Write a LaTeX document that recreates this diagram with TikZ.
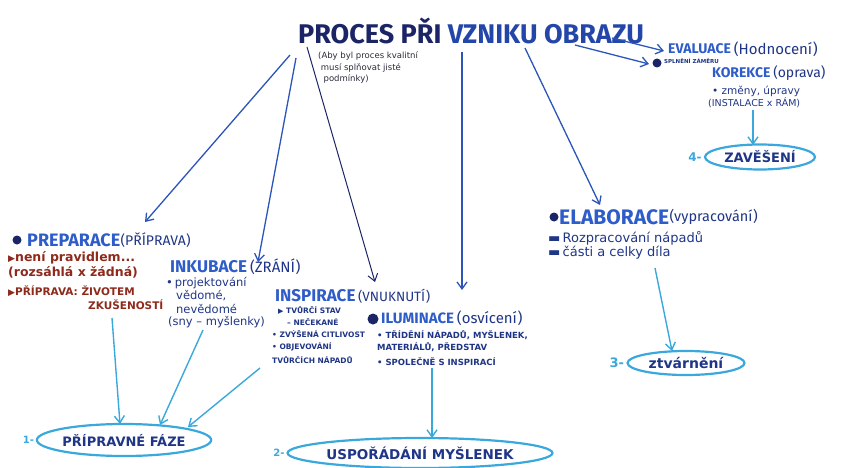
\documentclass[tikz,border=0pt]{standalone}
\usepackage{fontspec}
\setmainfont{DejaVu Sans}
\newfontfamily\fira{Fira Sans}
\usetikzlibrary{arrows.meta,shapes.geometric}
\definecolor{navy}{HTML}{1B2566}
\definecolor{tblue}{HTML}{2446A8}
\definecolor{hblue}{HTML}{2E5CC8}
\definecolor{dblue}{HTML}{1F3586}
\definecolor{rbrown}{HTML}{8E2A1C}
\definecolor{cyanl}{HTML}{3AA8DC}
\definecolor{arrowb}{HTML}{2B55B8}
\definecolor{inkd}{HTML}{2A2A3A}
\begin{document}
\begin{tikzpicture}[x=1pt,y=-1pt,
  heading/.style={font=\fira\fontsize{17}{17}\selectfont\bfseries, text=hblue, inner sep=0pt, anchor=west},
  paren/.style={font=\fira\fontsize{14}{14}\selectfont, text=dblue, inner sep=0pt, anchor=west},
  note/.style={font=\fontsize{11.5}{14}\selectfont, text=dblue, inner sep=0pt, anchor=west, align=left},
  caps/.style={font=\fontsize{8.5}{12}\selectfont\bfseries, text=dblue, inner sep=0pt, anchor=west, align=left},
  red/.style={font=\fontsize{12.5}{16}\selectfont\bfseries, text=rbrown, inner sep=0pt, anchor=west, align=left},
  dot/.style={circle, fill=navy, inner sep=0pt, minimum size=#1},
  darrow/.style={draw=arrowb, line width=1.3pt, -{Straight Barb[length=7pt,width=10pt]}},
  narrow/.style={draw=navy, line width=1pt, -{Straight Barb[length=7pt,width=10pt]}},
  carrow/.style={draw=cyanl, line width=1.4pt, -{Straight Barb[length=7pt,width=10pt]}},
  goal/.style={ellipse, draw=cyanl, line width=2.2pt, inner sep=0pt, text=dblue,
     font=\fontsize{13}{13}\selectfont\bfseries},
  num/.style={font=\fontsize{10}{10}\selectfont\bfseries, text=cyanl, inner sep=0pt, anchor=east},
]
\useasboundingbox (0,0) rectangle (851,468);

% title
\node[font=\fira\fontsize{27}{27}\selectfont\bfseries, inner sep=0pt, anchor=west] (title) at (298,31)
  {\textcolor{navy}{PROCES PŘI} \textcolor{tblue}{VZNIKU OBRAZU}};
\node[font=\fontsize{8.5}{11.5}\selectfont, text=inkd, inner sep=0pt, anchor=north west, align=left] (sub) at (318,52)
  {(Aby byl proces kvalitní\\\ musí splňovat jisté\\\ \ podmínky)};

\coordinate (t1) at (290,55);
\coordinate (t2) at (296,58);
\coordinate (t3) at (307,47);
\coordinate (t4) at (462,52);
\coordinate (t5) at (525,48);
\coordinate (t6) at (575,45);
\coordinate (t7) at (612,38);

% PREPARACE
\node[dot=9pt] (pb) at (17,240) {};
\node[heading, font=\fira\fontsize{18}{18}\selectfont\bfseries] (prep) at (27,240) {PREPARACE};
\node[paren] (prepp) at (prep.east) {(PŘÍPRAVA)};
\node[red] (pr1) at (8,258) {{\fontsize{9}{9}\selectfont ▶}není pravidlem...};
\node[red] (pr2) at (8,272) {(rozsáhlá x žádná)};
\node[red, font=\fontsize{10.5}{12}\selectfont\bfseries] (pr3) at (8,291) {{\fontsize{9}{9}\selectfont ▶}PŘÍPRAVA: ŽIVOTEM};
\node[red, font=\fontsize{10.5}{12}\selectfont\bfseries] (pr4) at (88,305) {ZKUŠENOSTÍ};

% INKUBACE
\node[heading] (inku) at (170,267) {INKUBACE};
\node[paren, font=\fira\fontsize{15}{15}\selectfont] (inkup) at (inku.east) {\,(ZRÁNÍ)};
\node[note] (ink1) at (166,283) {•\,projektování};
\node[note] (ink2) at (176,296) {vědomé,};
\node[note] (ink3) at (176,309) {nevědomé};
\node[note] (ink4) at (168,322) {(sny – myšlenky)};

% INSPIRACE
\node[heading] (insp) at (275,296) {INSPIRACE};
\node[paren, font=\fira\fontsize{13.5}{13.5}\selectfont] (inspp) at (insp.east) {\,(VNUKNUTÍ)};
\node[caps, font=\fontsize{7.5}{12}\selectfont\bfseries] (is1) at (278,310) {{\fontsize{7}{7}\selectfont ▶} TVŮRČÍ STAV};
\node[caps, font=\fontsize{7.5}{12}\selectfont\bfseries] (is2) at (287,322) {– NEČEKANÉ};
\node[caps, font=\fontsize{7.5}{12}\selectfont\bfseries] (is3) at (272,334) {• ZVÝŠENÁ CITLIVOST};
\node[caps, font=\fontsize{7.5}{12}\selectfont\bfseries] (is4) at (272,347) {• OBJEVOVÁNÍ};
\node[caps, font=\fontsize{7.5}{12}\selectfont\bfseries] (is5) at (272,360) {TVŮRČÍCH NÁPADŮ};

% ILUMINACE
\node[dot=11pt] (ib) at (373,319) {};
\node[heading, font=\fira\fontsize{15}{15}\selectfont\bfseries] (ilum) at (381,318) {ILUMINACE};
\node[paren, font=\fira\fontsize{15}{15}\selectfont] (ilump) at (ilum.east) {\,(osvícení)};
\node[caps] (il1) at (377,335) {• TŘÍDĚNÍ NÁPADŮ, MYŠLENEK,};
\node[caps] (il2) at (377,347) {MATERIÁLŮ, PŘEDSTAV};
\node[caps] (il3) at (377,362) {• SPOLEČNĚ S INSPIRACÍ};

% ELABORACE
\node[dot=9pt] (eb) at (554,217) {};
\node[heading, font=\fira\fontsize{21}{21}\selectfont\bfseries] (elab) at (559,217) {ELABORACE};
\node[paren, font=\fira\fontsize{14.5}{14.5}\selectfont] (elabp) at (elab.east) {(vypracování)};
\node[note, font=\fontsize{13}{14}\selectfont] (el1) at (548,238) {▬\,Rozpracování nápadů};
\node[note, font=\fontsize{13}{14}\selectfont] (el2) at (548,253) {▬\,části a celky díla};

% EVALUACE / KOREKCE
\node[heading, font=\fira\fontsize{14}{14}\selectfont\bfseries] (eval) at (668,49) {EVALUACE};
\node[paren, font=\fira\fontsize{15}{15}\selectfont] (evalp) at (eval.east) {\,(Hodnocení)};
\node[dot=9pt] (evb) at (657,63) {};
\node[caps, font=\fontsize{5.5}{6}\selectfont\bfseries] (ev1) at (664,61) {SPLNĚNÍ ZÁMĚRU};
\node[heading, font=\fira\fontsize{14}{14}\selectfont\bfseries] (kor) at (712,73) {KOREKCE};
\node[paren, font=\fira\fontsize{14}{14}\selectfont] (korp) at (kor.east) {\,(oprava)};
\node[note, font=\fontsize{10.5}{12}\selectfont] (ko1) at (712,91) {• změny, úpravy};
\node[note, font=\fontsize{9.5}{12}\selectfont] (ko2) at (708,103) {(INSTALACE x RÁM)};

% goals
\node[goal, minimum width=110pt, minimum height=25pt] (z4) at (760,157) {ZAVĚŠENÍ};
\node[num, font=\fontsize{12}{12}\selectfont\bfseries] (n4) at (z4.west) {4-\,};
\node[goal, minimum width=117pt, minimum height=24pt, font=\fontsize{14}{14}\selectfont\bfseries] (z3) at (686,363) {ztvárnění};
\node[num, font=\fontsize{13}{13}\selectfont\bfseries] (n3) at (z3.west) {3-\,};
\node[goal, minimum width=163pt, minimum height=32pt] (z1) at (124,440) {PŘÍPRAVNÉ FÁZE};
\node[num] (n1) at (z1.west) {1-\,};
\node[goal, minimum width=228pt, minimum height=30pt, font=\fontsize{13.5}{13.5}\selectfont\bfseries] (z2) at (420,453) {USPOŘÁDÁNÍ MYŠLENEK};
\node[num] (n2) at (z2.west) {2-\,};

% arrow end points
\coordinate (a1) at (145,222);
\coordinate (a2) at (258,262);
\coordinate (a3) at (375,282);
\coordinate (a4) at (462,290);
\coordinate (a5) at (600,205);
\coordinate (a6) at (649,64);
\coordinate (a7) at (664,51);

% arrows from title
\draw[darrow] (t1) -- (a1);
\draw[darrow] (t2) -- (a2);
\draw[narrow] (t3) -- (a3);
\draw[darrow] (t4) -- (a4);
\draw[darrow] (t5) -- (a5);
\draw[darrow] (t6) -- (a6);
\draw[darrow] (t7) -- (a7);

% cyan arrows
\coordinate (c1) at (112,318);
\coordinate (c2) at (203,330);
\coordinate (c3) at (260,368);
\coordinate (c4) at (432,368);
\coordinate (c5) at (655,268);
\coordinate (c6) at (753,110);
\coordinate (e1) at (120,424);
\coordinate (e2) at (160,425);
\coordinate (e3) at (188,427);
\coordinate (e4) at (432,438);
\coordinate (e5) at (672,351);
\coordinate (e6) at (753,145);
\draw[carrow] (c1) -- (e1);
\draw[carrow] (c2) -- (e2);
\draw[carrow] (c3) -- (e3);
\draw[carrow] (c4) -- (e4);
\draw[carrow] (c5) -- (e5);
\draw[carrow] (c6) -- (e6);
\end{tikzpicture}
\end{document}
